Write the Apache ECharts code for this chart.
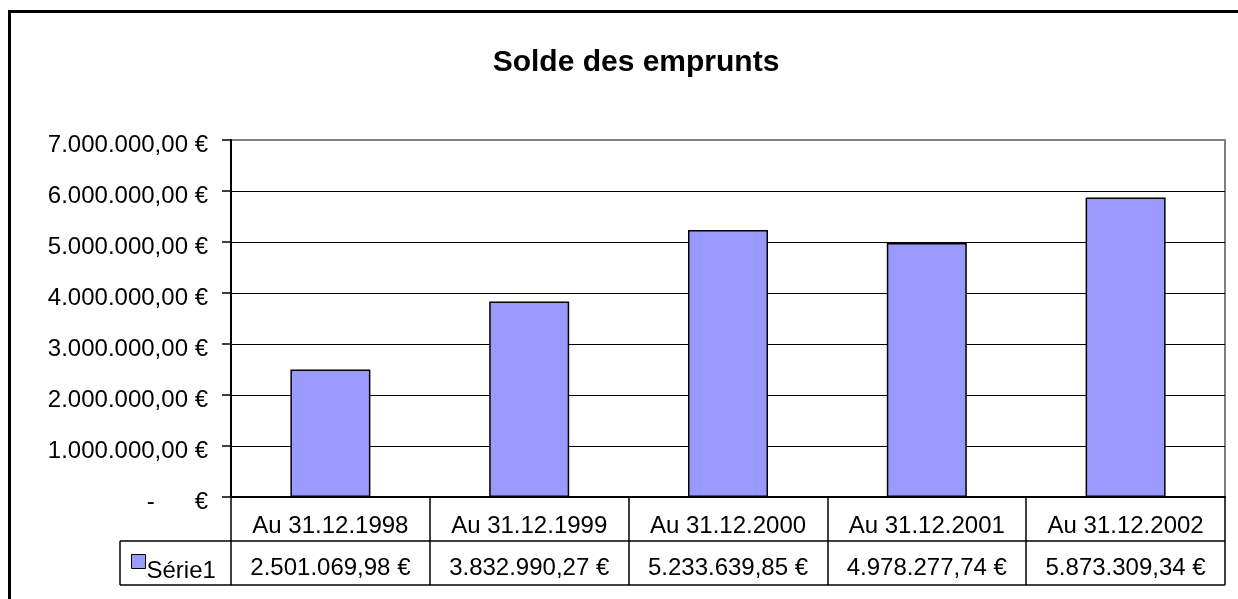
<!DOCTYPE html>
<html>
<head>
<meta charset="utf-8">
<script src="https://cdn.jsdelivr.net/npm/echarts@6/dist/echarts.min.js"></script>
<style>
  html, body { margin: 0; padding: 0; background: #fff; }
  #main { width: 1238px; height: 599px; }
</style>
</head>
<body>
<div id="main"></div>
<script>
var categories = ['Au 31.12.1998', 'Au 31.12.1999', 'Au 31.12.2000', 'Au 31.12.2001', 'Au 31.12.2002'];
var seriesName = 'Série1';
var values = [2501069.98, 3832990.27, 5233639.85, 4978277.74, 5873309.34];
var yMin = 0, yMax = 7000000, yStep = 1000000;

// format 1234567.8 -> "1.234.567,80 €"
function euro(v) {
  if (v === 0) return '-      €';
  var parts = v.toFixed(2).split('.');
  var ent = parts[0].replace(/\B(?=(\d{3})+(?!\d))/g, '.');
  return ent + ',' + parts[1] + ' €';
}

var font = 'Liberation Sans, Arial, sans-serif';
var chart = echarts.init(document.getElementById('main'));

// table frame
var gLeft = 231, gRight = 1225, gBottom = 497;
var rowH = 44, tableLeft = 120;

var option = {
  backgroundColor: '#fff',
  animation: false,
  title: {
    text: 'Solde des emprunts',
    left: 631,
    top: 43,
    textAlign: 'center',
    textStyle: { fontFamily: font, fontSize: 30, fontWeight: 'bold', color: '#000' }
  },
  legend: {
    data: [seriesName],
    left: 126,
    top: 549,
    icon: 'rect',
    itemWidth: 14,
    itemHeight: 14,
    itemGap: 0,
    itemStyle: { borderColor: '#000', borderWidth: 1 },
    formatter: '{a|{name}}',
    textStyle: {
      fontFamily: font, fontSize: 24, color: '#000',
      rich: { a: { fontFamily: font, fontSize: 24, color: '#000', padding: [20, 0, 0, -4] } }
    }
  },
  grid: {
    left: gLeft,
    right: 1238 - gRight,
    top: 140,
    bottom: 599 - gBottom,
    show: true,
    borderColor: '#808080',
    borderWidth: 2
  },
  xAxis: [{
    type: 'category',
    data: categories,
    position: 'bottom',
    axisLine: { lineStyle: { color: '#000', width: 2 } },
    axisTick: { show: true, length: rowH * 2, interval: 0, lineStyle: { color: '#000', width: 1.5 } },
    axisLabel: {
      interval: 0, margin: 29, verticalAlign: 'middle',
      fontFamily: font, fontSize: 24, color: '#000'
    }
  }, {
    type: 'category',
    data: values.map(euro),
    position: 'bottom',
    axisLine: { show: false },
    axisTick: { show: false },
    axisLabel: {
      interval: 0, margin: 71, verticalAlign: 'middle',
      fontFamily: font, fontSize: 24, color: '#000'
    }
  }],
  yAxis: {
    type: 'value',
    min: yMin,
    max: yMax,
    interval: yStep,
    axisLine: { show: true, lineStyle: { color: '#000', width: 2 } },
    axisTick: { show: true, length: 9, lineStyle: { color: '#000', width: 1.5 } },
    axisLabel: {
      margin: 23,
      verticalAlign: 'top',
      lineHeight: 10,
      fontFamily: font, fontSize: 24, color: '#000',
      formatter: function (v) { return euro(v); }
    },
    splitLine: {
      show: true,
      lineStyle: { color: ['#000', '#000', '#000', '#000', '#000', '#000', '#000', 'rgba(0,0,0,0)'], width: 1 }
    }
  },
  series: [{
    name: seriesName,
    type: 'bar',
    data: values,
    barWidth: 80,
    itemStyle: { color: '#9999FF', borderColor: '#000', borderWidth: 1.5 }
  }],
  graphic: [
    { type: 'rect', shape: { x: 9.5, y: 11.5, width: 1400, height: 800 },
      style: { fill: 'none', stroke: '#000', lineWidth: 3 }, silent: true },
    { type: 'line', shape: { x1: tableLeft, y1: gBottom + rowH, x2: gRight, y2: gBottom + rowH },
      style: { stroke: '#000', lineWidth: 1.5 } },
    { type: 'line', shape: { x1: tableLeft, y1: gBottom + rowH * 2, x2: gRight, y2: gBottom + rowH * 2 },
      style: { stroke: '#000', lineWidth: 1.5 } },
    { type: 'line', shape: { x1: tableLeft, y1: gBottom + rowH, x2: tableLeft, y2: gBottom + rowH * 2 },
      style: { stroke: '#000', lineWidth: 1.5 } }
  ]
};

chart.setOption(option);
</script>
</body>
</html>
